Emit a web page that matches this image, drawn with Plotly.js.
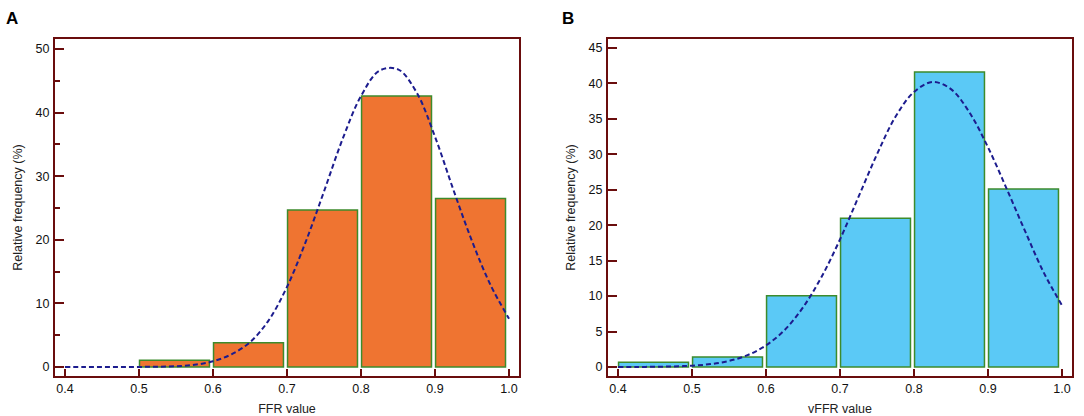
<!DOCTYPE html>
<html>
<head>
<meta charset="utf-8">
<script src="https://cdn.plot.ly/plotly-3.0.1.min.js"></script>
<style>html,body{margin:0;padding:0;background:#fff;}#chart{width:1084px;height:416px;}</style>
</head>
<body>
<div id="chart"></div>
<script>
// ---- data ----
const binStartsA = [0.5, 0.6, 0.7, 0.8, 0.9];
const freqA = [1.05, 3.8, 24.7, 42.6, 26.5];
const binStartsB = [0.4, 0.5, 0.6, 0.7, 0.8, 0.9];
const freqB = [0.66, 1.4, 10.05, 21.0, 41.6, 25.1];
const binWidth = 0.1;
const curveX = [0.4, 0.425, 0.45, 0.475, 0.5, 0.525, 0.55, 0.575, 0.6, 0.625, 0.65, 0.675, 0.7,
                0.725, 0.75, 0.775, 0.8, 0.825, 0.85, 0.875, 0.9, 0.925, 0.95, 0.975, 1.0];
const curveA = [0, 0, 0, 0, 0.02, 0.05, 0.12, 0.35, 0.9, 2.0, 3.9, 7.3, 12.6,
                19.6, 27.6, 35.8, 42.6, 46.6, 46.8, 43.2, 36.2, 27.8, 19.8, 12.9, 7.6];
const curveB = [0, 0.01, 0.03, 0.08, 0.19, 0.41, 0.86, 1.67, 3.05, 5.2, 8.4, 12.7, 18.0,
                24.0, 30.0, 35.3, 38.8, 40.2, 39.2, 35.9, 31.0, 25.2, 19.2, 13.4, 8.7];
const xTicks = [0.4, 0.5, 0.6, 0.7, 0.8, 0.9, 1.0];
const xTickText = ['0.4', '0.5', '0.6', '0.7', '0.8', '0.9', '1.0'];
const titleXA = 'FFR value';
const titleXB = 'vFFR value';
const titleY = 'Relative frequency (%)';

// ---- styles ----
const frameColor = '#6a0d0d';
const barLine = '#3d8b2c';
const orange = '#ef7431';
const blue = '#5bc9f6';
const navy = '#1c1c8e';
const font = 'Liberation Sans, Arial, sans-serif';

const centers = (starts) => starts.map(s => s + binWidth * 0.48);

const traces = [
  {type: 'bar', x: centers(binStartsA), y: freqA, width: binWidth * 0.945,
   marker: {color: orange, line: {color: barLine, width: 1.5}}, xaxis: 'x', yaxis: 'y', hoverinfo: 'skip'},
  {type: 'scatter', mode: 'lines', x: curveX, y: curveA,
   line: {color: navy, width: 2, dash: '5px,3px', shape: 'spline'}, xaxis: 'x', yaxis: 'y'},
  {type: 'bar', x: centers(binStartsB), y: freqB, width: binWidth * 0.945,
   marker: {color: blue, line: {color: barLine, width: 1.5}}, xaxis: 'x2', yaxis: 'y2', hoverinfo: 'skip'},
  {type: 'scatter', mode: 'lines', x: curveX, y: curveB,
   line: {color: navy, width: 2, dash: '5px,3px', shape: 'spline'}, xaxis: 'x2', yaxis: 'y2'}
];

function xAxis(domain, title, anchor) {
  return {
    domain: domain, anchor: anchor, range: [0.3865, 1.0135],
    tickvals: xTicks, ticktext: xTickText,
    ticks: 'inside', ticklen: 7, tickwidth: 2, tickcolor: frameColor,
    showline: true, linewidth: 2, linecolor: frameColor, mirror: true,
    showgrid: false, zeroline: false,
    tickfont: {family: font, size: 12.5, color: '#111'},
    title: {text: title, font: {family: font, size: 12.5, color: '#222'}, standoff: 9}
  };
}
function yAxis(domain, range, dtick, minor, anchor) {
  const a = {
    domain: domain, anchor: anchor, range: range, dtick: dtick, tick0: 0,
    ticks: 'inside', ticklen: 9, tickwidth: 2, tickcolor: frameColor,
    showline: true, linewidth: 2, linecolor: frameColor, mirror: true,
    showgrid: false, zeroline: false, ticklabelstandoff: 1,
    tickfont: {family: font, size: 12.5, color: '#111'},
    title: {text: titleY, font: {family: font, size: 12.5, color: '#222'}, standoff: 10}
  };
  if (minor) a.minor = {ticks: 'inside', ticklen: 5, tickwidth: 2, tickcolor: frameColor, dtick: minor, showgrid: false};
  return a;
}

const yDom = [0.09615, 0.90625];
const layout = {
  width: 1084, height: 416,
  margin: {l: 0, r: 0, t: 0, b: 0},
  paper_bgcolor: '#fff', plot_bgcolor: '#fff',
  showlegend: false, bargap: 0,
  xaxis: xAxis([0.0507, 0.4788], titleXA, 'y'),
  yaxis: yAxis(yDom, [-1.41, 51.57], 10, 5, 'x'),
  xaxis2: xAxis([0.5609, 0.9889], titleXB, 'y2'),
  yaxis2: yAxis(yDom, [-1.27, 46.27], 5, null, 'x2'),
  annotations: [
    {text: '<b>A</b>', xref: 'paper', yref: 'paper', x: 0.004, y: 0.982, xanchor: 'left', yanchor: 'top',
     showarrow: false, font: {family: font, size: 17, color: '#000'}},
    {text: '<b>B</b>', xref: 'paper', yref: 'paper', x: 0.517, y: 0.982, xanchor: 'left', yanchor: 'top',
     showarrow: false, font: {family: font, size: 17, color: '#000'}}
  ]
};

Plotly.newPlot('chart', traces, layout, {staticPlot: true, displayModeBar: false});
</script>
</body>
</html>
